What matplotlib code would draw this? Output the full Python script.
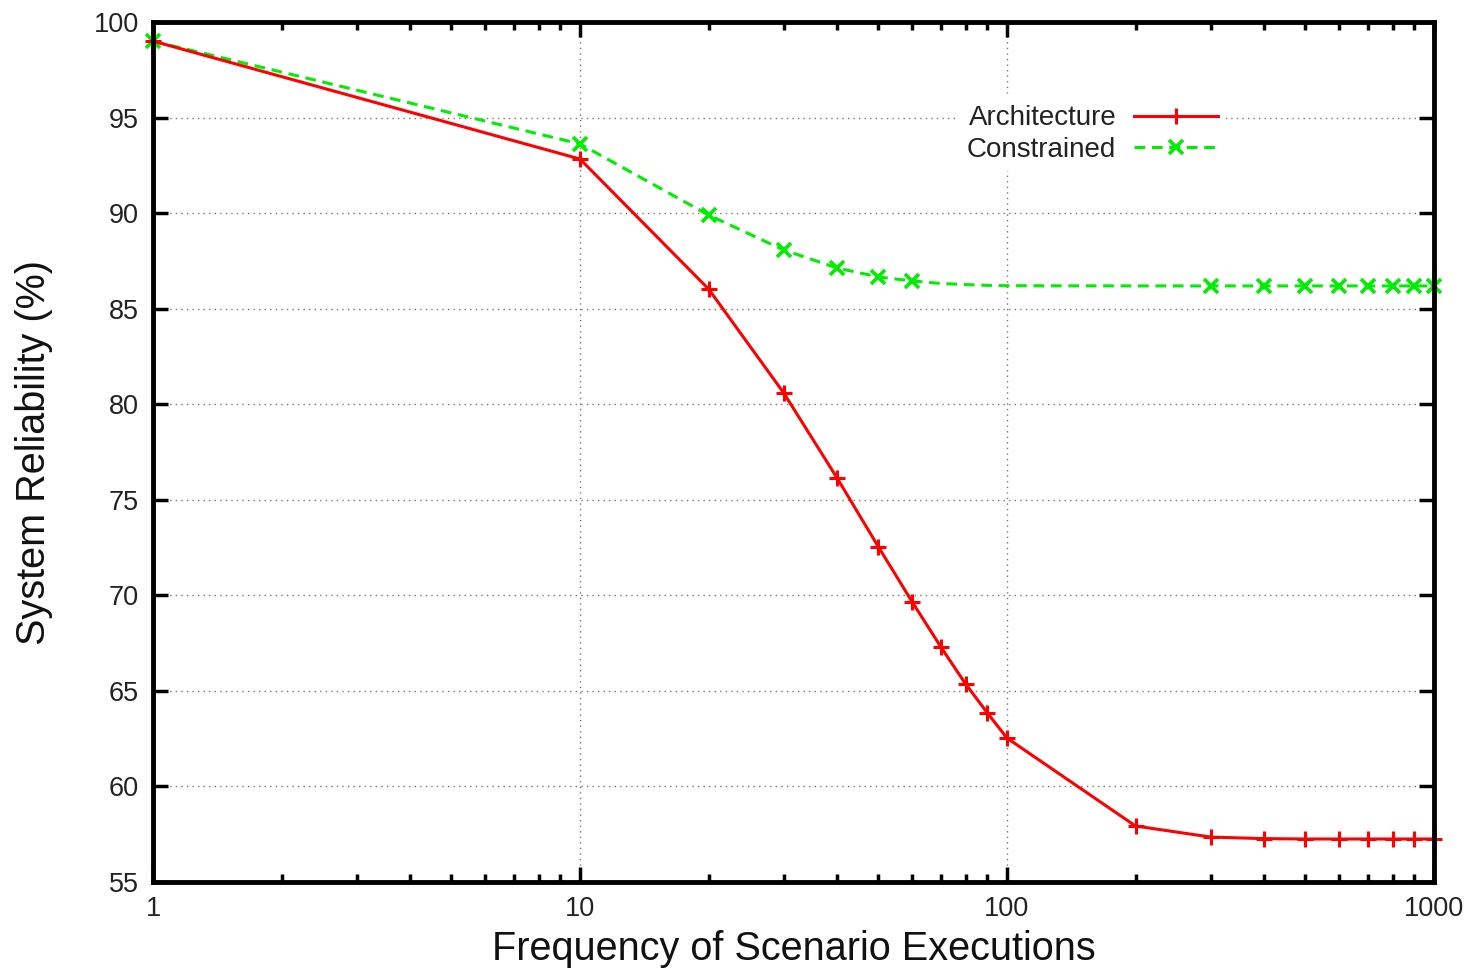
import matplotlib
matplotlib.use("Agg")
import matplotlib.pyplot as plt
from matplotlib.ticker import FixedLocator, LogLocator, NullFormatter, FixedFormatter

plt.rcParams['font.family'] = ['Liberation Sans', 'DejaVu Sans']

# ---- data ----
freq = [1, 10, 20, 30, 40, 50, 60, 70, 80, 90, 100, 200, 300, 400, 500, 600, 700, 800, 900, 1000]
architecture = [99.0, 92.83, 86.03, 80.59, 76.14, 72.53, 69.65, 67.3, 65.36, 63.84, 62.53,
                57.93, 57.35, 57.27, 57.25, 57.25, 57.25, 57.25, 57.25, 57.25]
constrained = [99.0, 93.62, 89.9, 88.07, 87.13, 86.66, 86.45, 86.32, 86.26, 86.22, 86.2,
               86.19, 86.19, 86.19, 86.19, 86.19, 86.19, 86.19, 86.19, 86.19]
constrained_marked = [0, 1, 2, 3, 4, 5, 6, 12, 13, 14, 15, 16, 17, 18, 19]
series_names = ["Architecture", "Constrained"]
xticks = [1, 10, 100, 1000]
xtick_labels = ["1", "10", "100", "1000"]
yticks = [55, 60, 65, 70, 75, 80, 85, 90, 95, 100]
xlabel = "Frequency of Scenario Executions"
ylabel = "System Reliability (%)"

W, H = 1474, 972
fig = plt.figure(figsize=(W / 100, H / 100), dpi=100)
ax = fig.add_axes([153 / W, 1 - 882 / H, (1434 - 153) / W, (882 - 22) / H])

ax.plot(freq, architecture, color='#ff0000', lw=2.2, marker='+', ms=11, mew=2.2,
        label=series_names[0], clip_on=False, zorder=5)
ax.plot(freq, constrained, color='#00ee00', lw=2.2, ls=(0, (3.5, 2.2)), marker='x', ms=10.5,
        mew=2.6, markevery=constrained_marked, label=series_names[1], clip_on=False, zorder=4)

ax.set_xscale('log')
ax.set_xlim(1, 1000)
ax.set_ylim(55, 100)
ax.xaxis.set_major_locator(FixedLocator(xticks))
ax.xaxis.set_major_formatter(FixedFormatter(xtick_labels))
ax.xaxis.set_minor_locator(LogLocator(base=10, subs=range(2, 10)))
ax.xaxis.set_minor_formatter(NullFormatter())
ax.set_yticks(yticks)

ax.tick_params(which='both', direction='in', top=True, right=True, labelsize=19.5,
               width=2.5, color='black', labelcolor='#222222')
ax.tick_params(which='major', length=11, pad=10)
ax.tick_params(which='minor', length=6)

for s in ax.spines.values():
    s.set_linewidth(3.5)
    s.set_zorder(6)

ax.grid(True, which='major', ls=(0, (1, 3)), color='#777777', lw=1.0)

ax.set_xlabel(xlabel, fontsize=28.5, color='#111111')
ax.set_ylabel(ylabel, fontsize=28.5, color='#111111')
ax.xaxis.label.set_va('center')
ax.xaxis.set_label_coords(0.5, -0.078)
ax.yaxis.label.set_va('center')
ax.yaxis.set_label_coords(-0.093, 0.5)

leg = ax.legend(loc='upper right', bbox_to_anchor=((1226 - 153) / 1281, (882 - 97) / 860),
                markerfirst=False, frameon=True, fancybox=False, edgecolor='none',
                facecolor='white', framealpha=1.0, fontsize=20, handlelength=3.0,
                handletextpad=0.65, labelspacing=0.2, borderpad=0.3, borderaxespad=0)
leg.set_zorder(3)
for t in leg.get_texts():
    t.set_ha('right')
    t.set_color('#222222')

fig.savefig("out.png", dpi=100)
